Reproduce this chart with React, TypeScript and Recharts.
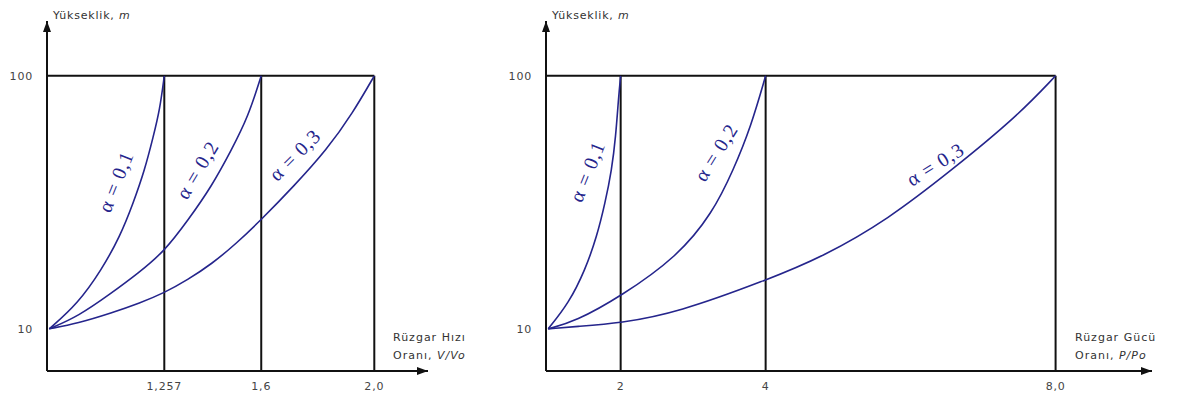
import { LineChart, Line, XAxis, YAxis, ReferenceLine, ReferenceDot } from 'recharts';

// height axis (m), shared by both panels
const heightTicks = [10, 100];
const heightRange = [-5, 119.5];

// left: wind speed ratio V/Vo
const speedTicks = [1.257, 1.6, 2.0];
const speedTickLabels = ['1,257', '1,6', '2,0'];
const speedA01 = [
  { x: 0.85, h: 10 }, { x: 0.952, h: 19.1 }, { x: 1.035, h: 31 }, { x: 1.1, h: 42.8 },
  { x: 1.147, h: 54.7 }, { x: 1.188, h: 66.6 }, { x: 1.218, h: 78.4 }, { x: 1.241, h: 87.9 },
  { x: 1.257, h: 100 },
];
const speedA02 = [
  { x: 0.85, h: 10 }, { x: 0.952, h: 14.4 }, { x: 1.07, h: 22.7 }, { x: 1.165, h: 29.8 },
  { x: 1.257, h: 37.5 }, { x: 1.342, h: 48.8 }, { x: 1.424, h: 60.6 }, { x: 1.495, h: 73.7 },
  { x: 1.554, h: 85.5 }, { x: 1.6, h: 100 },
];
const speedA03 = [
  { x: 0.85, h: 10 }, { x: 0.951, h: 12 }, { x: 1.071, h: 15.7 }, { x: 1.171, h: 19.2 },
  { x: 1.257, h: 22.8 }, { x: 1.339, h: 27.4 }, { x: 1.425, h: 33.1 }, { x: 1.51, h: 40.2 },
  { x: 1.6, h: 48.8 }, { x: 1.713, h: 60.5 }, { x: 1.832, h: 73.7 }, { x: 1.924, h: 86.8 },
  { x: 2.0, h: 100 },
];
const speedTags = [
  { x: 1.085, h: 62.4, text: 'α = 0,1', angle: -68 },
  { x: 1.374, h: 66.6, text: 'α = 0,2', angle: -59 },
  { x: 1.719, h: 71.9, text: 'α = 0,3', angle: -45 },
];

// right: wind power ratio P/Po
const powerTicks = [2, 4, 8];
const powerTickLabels = ['2', '4', '8,0'];
const powerA01 = [
  { x: 1, h: 10 }, { x: 1.284, h: 19.1 }, { x: 1.511, h: 31 }, { x: 1.671, h: 42.8 },
  { x: 1.785, h: 54.7 }, { x: 1.877, h: 66.6 }, { x: 1.932, h: 78.4 }, { x: 1.97, h: 92 },
  { x: 2, h: 100 },
];
const powerA02 = [
  { x: 1, h: 10 }, { x: 1.374, h: 12.6 }, { x: 2, h: 21.5 }, { x: 2.785, h: 35.7 },
  { x: 3.268, h: 51.2 }, { x: 3.557, h: 66.6 }, { x: 3.798, h: 82 }, { x: 4, h: 100 },
];
const powerA03 = [
  { x: 1, h: 10 }, { x: 1.374, h: 10.8 }, { x: 2, h: 12 }, { x: 2.785, h: 15.8 },
  { x: 4, h: 27.2 }, { x: 4.794, h: 35.7 }, { x: 5.683, h: 48.8 }, { x: 6.574, h: 66.6 },
  { x: 7.466, h: 85.5 }, { x: 8, h: 100 },
];
const powerTags = [
  { x: 1.54, h: 66, text: 'α = 0,1', angle: -68 },
  { x: 3.316, h: 72.8, text: 'α = 0,2', angle: -58 },
  { x: 6.34, h: 68.6, text: 'α = 0,3', angle: -32 },
];

const INK = '#111';
const CURVE = '#25258c';
const SANS = '"DejaVu Sans", Verdana, sans-serif';
const tickStyle = { fontSize: 11, fill: '#444', fontFamily: SANS, letterSpacing: 0.8 };

const ArrowUp = (p: any) => (
  <path d={`M${p.cx},${p.cy} L${p.cx - 4},${p.cy + 11} L${p.cx + 4},${p.cy + 11} Z`} fill={INK} />
);
const ArrowRight = (p: any) => (
  <path d={`M${p.cx},${p.cy} L${p.cx - 11},${p.cy - 4} L${p.cx - 11},${p.cy + 4} Z`} fill={INK} />
);

interface PanelProps {
  series: { x: number; h: number }[][];
  ticks: number[];
  tickLabels: string[];
  xDomain: [number, number];
  tags: { x: number; h: number; text: string; angle: number }[];
  xTitle: [string, string, string];
  titleOffset: number;
  width: number;
  left: number;
  yAxisWidth: number;
  marginRight: number;
}

const Panel = ({ series, ticks, tickLabels, xDomain, tags, xTitle, titleOffset, width, left, yAxisWidth, marginRight }: PanelProps) => {
  const last = ticks[ticks.length - 1];
  return (
    <div style={{ position: 'absolute', left, top: 0 }}>
      <LineChart width={width} height={406} margin={{ top: 21, right: marginRight, bottom: 0, left: 0 }}>
        <XAxis
          type="number"
          dataKey="x"
          domain={xDomain}
          allowDataOverflow
          ticks={ticks}
          tickFormatter={(v: number) => tickLabels[ticks.indexOf(v)]}
          tick={tickStyle}
          tickLine={false}
          tickSize={0}
          tickMargin={11}
          height={35}
          axisLine={{ stroke: INK, strokeWidth: 2 }}
          label={{
            content: ({ viewBox }: any) => (
              <text
                x={viewBox.x + viewBox.width - titleOffset}
                y={viewBox.y - 30}
                fontSize={11}
                fontFamily={SANS}
                fill="#333"
                letterSpacing={1}
              >
                <tspan>{xTitle[0]}</tspan>
                <tspan x={viewBox.x + viewBox.width - titleOffset} dy={18}>{xTitle[1]}</tspan>
                <tspan fontStyle="italic">{xTitle[2]}</tspan>
              </text>
            ),
          }}
        />
        <YAxis
          type="number"
          dataKey="h"
          domain={heightRange}
          allowDataOverflow
          ticks={heightTicks}
          tick={tickStyle}
          tickLine={false}
          tickSize={0}
          tickMargin={14}
          width={yAxisWidth}
          axisLine={{ stroke: INK, strokeWidth: 2 }}
          label={{
            content: ({ viewBox }: any) => (
              <text x={viewBox.x + viewBox.width + 6} y={viewBox.y - 2} fontSize={11} fontFamily={SANS} fill="#333" letterSpacing={0.8}>
                Yükseklik, <tspan fontStyle="italic">m</tspan>
              </text>
            ),
          }}
        />
        <ReferenceLine
          segment={[{ x: xDomain[0], y: 100 }, { x: last, y: 100 }]}
          stroke={INK}
          strokeWidth={2}
          ifOverflow="visible"
        />
        {ticks.map((t) => (
          <ReferenceLine
            key={t}
            segment={[{ x: t, y: heightRange[0] }, { x: t, y: 100 }]}
            stroke={INK}
            strokeWidth={2}
            ifOverflow="visible"
          />
        ))}
        {series.map((s, i) => (
          <Line
            key={i}
            data={s}
            dataKey="h"
            type="basis"
            stroke={CURVE}
            strokeWidth={1.6}
            dot={false}
            isAnimationActive={false}
          />
        ))}
        {tags.map((t) => (
          <ReferenceDot
            key={t.text}
            x={t.x}
            y={t.h}
            r={0}
            ifOverflow="visible"
            shape={(p: any) => (
              <text
                x={p.cx}
                y={p.cy}
                transform={`rotate(${t.angle} ${p.cx} ${p.cy})`}
                textAnchor="middle"
                dominantBaseline="central"
                fontFamily='"Liberation Serif", "Times New Roman", serif'
                fontSize={20}
                letterSpacing={1}
                fill={CURVE}
              >
                {t.text}
              </text>
            )}
          />
        ))}
        <ReferenceDot x={xDomain[0]} y={heightRange[1]} r={0} ifOverflow="visible" shape={ArrowUp} />
        <ReferenceDot x={xDomain[1]} y={heightRange[0]} r={0} ifOverflow="visible" shape={ArrowRight} />
      </LineChart>
    </div>
  );
};

export default function App() {
  return (
    <div style={{ position: 'relative', width: 1183, height: 406, background: '#fff' }}>
      <style>{'body{margin:0}'}</style>
      <Panel
        series={[speedA01, speedA02, speedA03]}
        ticks={speedTicks}
        tickLabels={speedTickLabels}
        xDomain={[0.842, 2.19]}
        tags={speedTags}
        xTitle={['Rüzgar Hızı', 'Oranı, ', 'V/Vo']}
        titleOffset={35}
        width={500}
        left={0}
        yAxisWidth={47}
        marginRight={72}
      />
      <Panel
        series={[powerA01, powerA02, powerA03]}
        ticks={powerTicks}
        tickLabels={powerTickLabels}
        xDomain={[0.97, 9.33]}
        tags={powerTags}
        xTitle={['Rüzgar Gücü', 'Oranı, ', 'P/Po']}
        titleOffset={77}
        width={683}
        left={500}
        yAxisWidth={46}
        marginRight={31}
      />
    </div>
  );
}
